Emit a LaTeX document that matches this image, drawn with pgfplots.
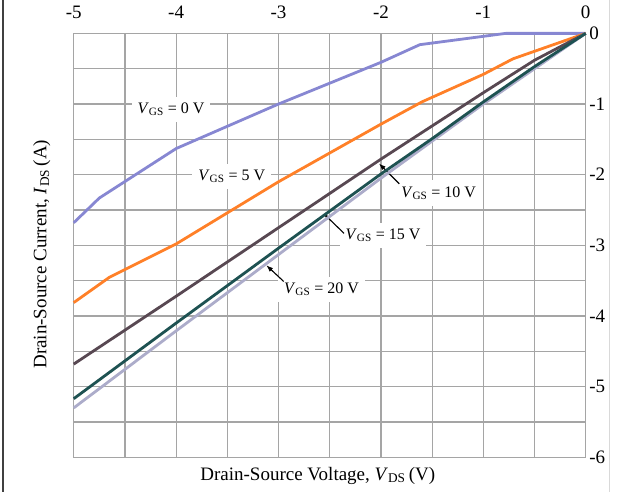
\documentclass[border=0pt]{standalone}
\usepackage{fontspec}
\setmainfont{Liberation Serif}
\usepackage{pgfplots}
\pgfplotsset{compat=1.18}
\usetikzlibrary{arrows.meta}

\definecolor{gridgray}{RGB}{165,165,165}
\definecolor{vgs0}{RGB}{135,135,210}
\definecolor{vgs5}{RGB}{255,128,40}
\definecolor{vgs10}{RGB}{88,72,82}
\definecolor{vgs15}{RGB}{30,82,82}
\definecolor{vgs20}{RGB}{172,172,202}

\newcommand{\vgs}[1]{\textit{V}\textsubscript{GS} = #1 V}

\tikzset{
  annot/.style={fill=white, inner xsep=6pt, inner ysep=6pt, font=\fontsize{16}{18}\selectfont},
  arr/.style={-{Latex[length=7pt,width=5pt]}, line width=1.1pt, black},
}

\begin{document}
\begin{tikzpicture}[x=1pt,y=1pt]
% chart frame
\draw[line width=2pt, black!75] (3,0) -- (3,492);
\draw[line width=1pt, black!15] (609,0) -- (609,492);
\begin{axis}[
  at={(72,49)}, anchor=south west,
  scale only axis, width=512pt, height=424pt,
  xmin=-5, xmax=0, ymin=-6, ymax=0,
  xtick={-5,-4,-3,-2,-1,0}, xticklabels={-5,-4,-3,-2,-1,0},
  ytick={-6,-5,-4,-3,-2,-1,0}, yticklabels={-6,-5,-4,-3,-2,-1,0},
  minor x tick num=1, minor y tick num=1,
  grid=both,
  major grid style={gridgray, line width=1.2pt},
  minor grid style={gridgray, line width=1.2pt},
  axis line style={gridgray, line width=1.2pt},
  major tick length=0pt, minor tick length=0pt,
  xticklabel pos=right, yticklabel pos=right,
  tick label style={font=\fontsize{19}{22}\selectfont},
  xticklabel style={yshift=11pt},
  xlabel={Drain-Source Voltage, \textit{V}\textsubscript{DS}\,(V)},
  ylabel={Drain-Source Current, \textit{I}\textsubscript{DS}\,(A)},
  label style={font=\fontsize{19}{22}\selectfont},
  xlabel style={at={(axis description cs:0.4766,-0.043)}, anchor=center},
  ylabel style={at={(axis description cs:-0.0625,0.479)}, anchor=center},
  clip=false,
  every axis plot/.append style={line width=2.8pt, line join=round},
]
% curve labels (white boxes break the grid)
\node[annot] at (axis cs:-4.05,-1.075) {\vgs{0}};
\node[annot] at (axis cs:-3.457,-2.02) {\vgs{5}};
\node[annot] at (axis cs:-1.436,-2.26) {\vgs{10}};
\node[annot] at (axis cs:-1.98,-2.86) {\vgs{15}};
\node[annot] at (axis cs:-2.58,-3.62) {\vgs{20}};
\draw[arr] (axis cs:-1.82,-2.13) -- (axis cs:-2.02,-1.84);
\draw[arr] (axis cs:-2.36,-2.83) -- (axis cs:-2.56,-2.55);
\draw[arr] (axis cs:-2.95,-3.51) -- (axis cs:-3.12,-3.28);

% V_GS = 0 V
\addplot[vgs0] coordinates {
  (-5,-2.68) (-4.75,-2.33) (-4,-1.63) (-3,-1.0) (-2,-0.41)
  (-1.62,-0.16) (-0.78,0) (0,0)};
% V_GS = 5 V
\addplot[vgs5] coordinates {
  (-5,-3.81) (-4.65,-3.45) (-4,-2.98) (-3,-2.1) (-2,-1.285)
  (-1.6,-0.97) (-1,-0.58) (-0.71,-0.36) (0,0)};
% V_GS = 10 V
\addplot[vgs10] coordinates {
  (-5,-4.68) (-4,-3.72) (-3,-2.75) (-2,-1.78) (-1.5,-1.31)
  (-1,-0.84) (-0.5,-0.38) (0,0)};
% V_GS = 20 V
\addplot[vgs20] coordinates {
  (-5,-5.30) (-4,-4.21) (-3,-3.13) (-2,-2.05) (-1,-1.0) (0,0)};
% V_GS = 15 V
\addplot[vgs15] coordinates {
  (-5,-5.17) (-4,-4.1) (-3,-3.04) (-2,-1.99) (-1.5,-1.49)
  (-1,-0.97) (-0.5,-0.47) (0,0)};
\end{axis}
\pgfresetboundingbox
\path[use as bounding box] (0,0) rectangle (626,492);
\end{tikzpicture}
\end{document}
